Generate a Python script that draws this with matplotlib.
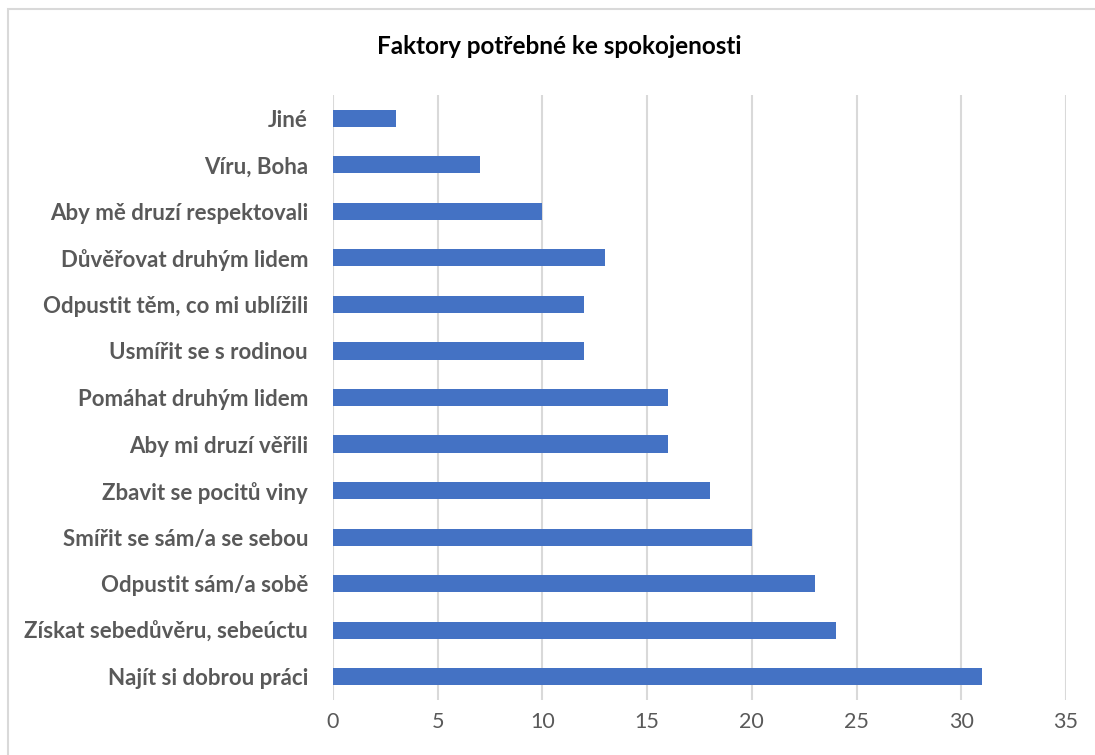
import matplotlib
matplotlib.use("Agg")
import matplotlib.pyplot as plt
from matplotlib.patches import Rectangle

categories = [
    "Jiné",
    "Víru, Boha",
    "Aby mě druzí respektovali",
    "Důvěřovat druhým lidem",
    "Odpustit těm, co mi ublížili",
    "Usmířit se s rodinou",
    "Pomáhat druhým lidem",
    "Aby mi druzí věřili",
    "Zbavit se pocitů viny",
    "Smířit se sám/a se sebou",
    "Odpustit sám/a sobě",
    "Získat sebedůvěru, sebeúctu",
    "Najít si dobrou práci",
]
values = [3, 7, 10, 13, 12, 12, 16, 16, 18, 20, 23, 24, 31]
xticks = [0, 5, 10, 15, 20, 25, 30, 35]
title = "Faktory potřebné ke spokojenosti"

W, H = 1095, 755
plt.rcParams['font.family'] = ['Lato', 'DejaVu Sans']
fig = plt.figure(figsize=(W / 100, H / 100), dpi=100)
fig.patch.set_facecolor("white")

# chart border
fig.add_artist(Rectangle((8 / W, -0.1), 1.2, (H - 9) / H + 0.1, transform=fig.transFigure,
                         fill=False, edgecolor="#d9d9d9", linewidth=1.5))

ax = fig.add_axes([333 / W, 1 - 700 / H, (1066 - 333) / W, (700 - 95) / H])
y = list(range(len(categories)))
ax.barh(y, values, height=0.37, color="#4472C4", zorder=3)
ax.set_ylim(len(categories) - 0.5, -0.5)
ax.set_xlim(0, 35)
ax.set_xticks(xticks)
ax.set_xticklabels([str(t) for t in xticks])
ax.set_yticks(y)
ax.set_yticklabels(categories, fontweight="bold")
ax.tick_params(axis="y", length=0, pad=18, labelsize=16, labelcolor="#595959")
ax.tick_params(axis="x", length=0, pad=9, labelsize=15.5, labelcolor="#595959")
ax.grid(axis="x", color="#d9d9d9", linewidth=1.5, zorder=0)
for s in ax.spines.values():
    s.set_visible(False)

fig.text(559 / W, 1 - 47 / H, title, ha="center", va="center", fontsize=17.5,
         fontweight="bold", color="black")

fig.savefig("out.png", dpi=100)
